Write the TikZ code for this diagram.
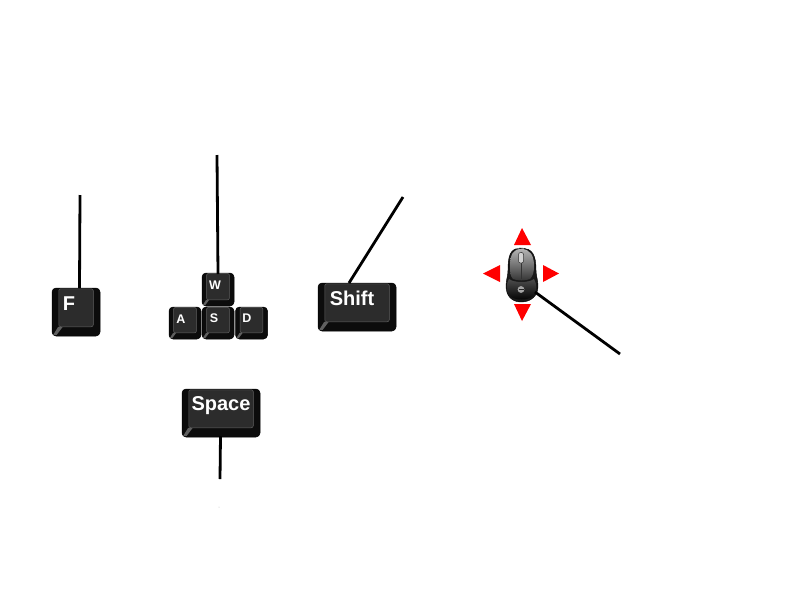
\documentclass[tikz,border=0pt]{standalone}
\usepackage{fontspec}
\setmainfont{Liberation Sans}
\usetikzlibrary{calc}
\definecolor{keyface}{HTML}{2C2C2C}
\definecolor{keyedge}{HTML}{0C0C0C}
\definecolor{keyglint}{HTML}{606060}
\tikzset{
    keybody/.style={fill=keyedge, draw=black, line width=0.5pt, rounded corners=4pt, inner sep=0pt},
    keyglint/.style={fill=keyglint},
    biglabel/.style={text=white, font=\fontsize{20}{20}\selectfont\bfseries, inner sep=0pt, anchor=base},
    smalllabel/.style={text=white, font=\fontsize{12.5}{12.5}\selectfont\bfseries, inner sep=0pt, anchor=base},
    pinline/.style={line width=2.8pt, black},
    redarrow/.style={fill=red},
}
% name, centre x, centre y, width, height, size of the bevel
\newcommand{\keycap}[6]{
    \node[keybody, minimum width=#4pt, minimum height=#5pt] (#1) at (#2,#3) {};
    \fill[keyglint] ($(#1.south west)+(1.5*#6,-1.5*#6)$) -- ($(#1.south west)+(6.5*#6,-9.5*#6)$)
        -- ($(#1.south west)+(11*#6,-9.5*#6)$) -- ($(#1.south west)+(5*#6,-1.5*#6)$) -- cycle;
    \draw[draw=keyglint, fill=keyface, line width=0.5pt, rounded corners=2pt]
        ($(#1.north west)+(7*#6,1*#6)$) rectangle ($(#1.south east)+(-7*#6,-9.5*#6)$);
}

\begin{document}
\begin{tikzpicture}[x=1pt, y=-1pt]
    \useasboundingbox (0,0) rectangle (800,600);

    % keys
    \keycap{fkey}{76}{312}{48}{48}{1}
    \keycap{wkey}{218}{289.5}{32}{33}{0.68}
    \keycap{akey}{185}{323}{32}{32}{0.68}
    \keycap{skey}{218}{323}{32}{32}{0.68}
    \keycap{dkey}{251.5}{323}{32}{32}{0.68}
    \keycap{shiftkey}{357}{307}{78}{48}{1}
    \keycap{spacekey}{221}{413}{78}{48}{1}

    \node[biglabel] (flabel) at (69,310) {F};
    \node[smalllabel] (wlabel) at (215,289) {W};
    \node[smalllabel] (alabel) at (181,323) {A};
    \node[smalllabel] (slabel) at (214,322) {S};
    \node[smalllabel] (dlabel) at (247,322) {D};
    \node[biglabel] (shiftlabel) at (352,305) {Shift};
    \node[biglabel] (spacelabel) at (221,410) {Space};

    % mouse
    \draw[black, line width=0.4pt, fill=black!90]
        (521,248) .. controls (510,248) and (508,256) .. (508,270)
        .. controls (508,276) and (506,280) .. (506,286)
        .. controls (506,296) and (512,302) .. (521,302)
        .. controls (531,302) and (538,296) .. (538,286)
        .. controls (538,280) and (536,276) .. (536,270)
        .. controls (536,256) and (533,248) .. (521,248) -- cycle;
    \shade[top color=black!70, bottom color=black]
        (509,279) .. controls (514,283) and (529,283) .. (534,279)
        .. controls (537,284) and (537,291) .. (534,295)
        .. controls (530,301) and (513,301) .. (509,295)
        .. controls (506,291) and (506,284) .. (509,279) -- cycle;
    \shade[top color=black!30, bottom color=black!80]
        (521,249) .. controls (513,249) and (510,255) .. (510,266)
        .. controls (510,272) and (510,276) .. (513,279)
        .. controls (518,281) and (525,281) .. (530,279)
        .. controls (533,276) and (534,272) .. (534,266)
        .. controls (534,255) and (530,249) .. (521,249) -- cycle;
    \draw[black!80, line width=0.6pt] (521,252) -- (521,279);
    \draw[black!80, line width=0.5pt, fill=black!18, rounded corners=2pt] (518.5,252.5) rectangle (523.5,263);
    \draw[white, line width=0.7pt, dashed, dash pattern=on 3pt off 1.5pt] (512,249) .. controls (518,247.5) and (525,247.5) .. (531,249);
    \fill[black!35] (521,289.5) circle (3.4pt);
    \fill[black!85] (518.5,289) rectangle (523.5,290);

    % arrows
    \fill[redarrow] (522,228) -- (531,245) -- (514,245) -- cycle;
    \fill[redarrow] (522,321) -- (531,304) -- (514,304) -- cycle;
    \fill[redarrow] (483,273.5) -- (500,265) -- (500,282) -- cycle;
    \fill[redarrow] (559,273.5) -- (543,265) -- (543,282) -- cycle;

    % pins
    \coordinate (ftop) at (80,195);
    \coordinate (fpin) at (79.5,288);
    \coordinate (wtop) at (217,155);
    \coordinate (wpin) at (218,274);
    \coordinate (shifttop) at (403,197);
    \coordinate (shiftpin) at (349,283);
    \coordinate (spacetail) at (220,479);
    \coordinate (spacepin) at (220.5,436);
    \coordinate (mousepin) at (535,292);
    \coordinate (mousetail) at (620,354);
    \draw[pinline] (ftop) -- (fpin);
    \draw[pinline] (wtop) -- (wpin);
    \draw[pinline] (shifttop) -- (shiftpin);
    \draw[pinline] (spacepin) -- (spacetail);
    \draw[pinline] (mousepin) -- (mousetail);
    \fill[black!25] (219,507) circle (0.5pt);
\end{tikzpicture}
\end{document}
